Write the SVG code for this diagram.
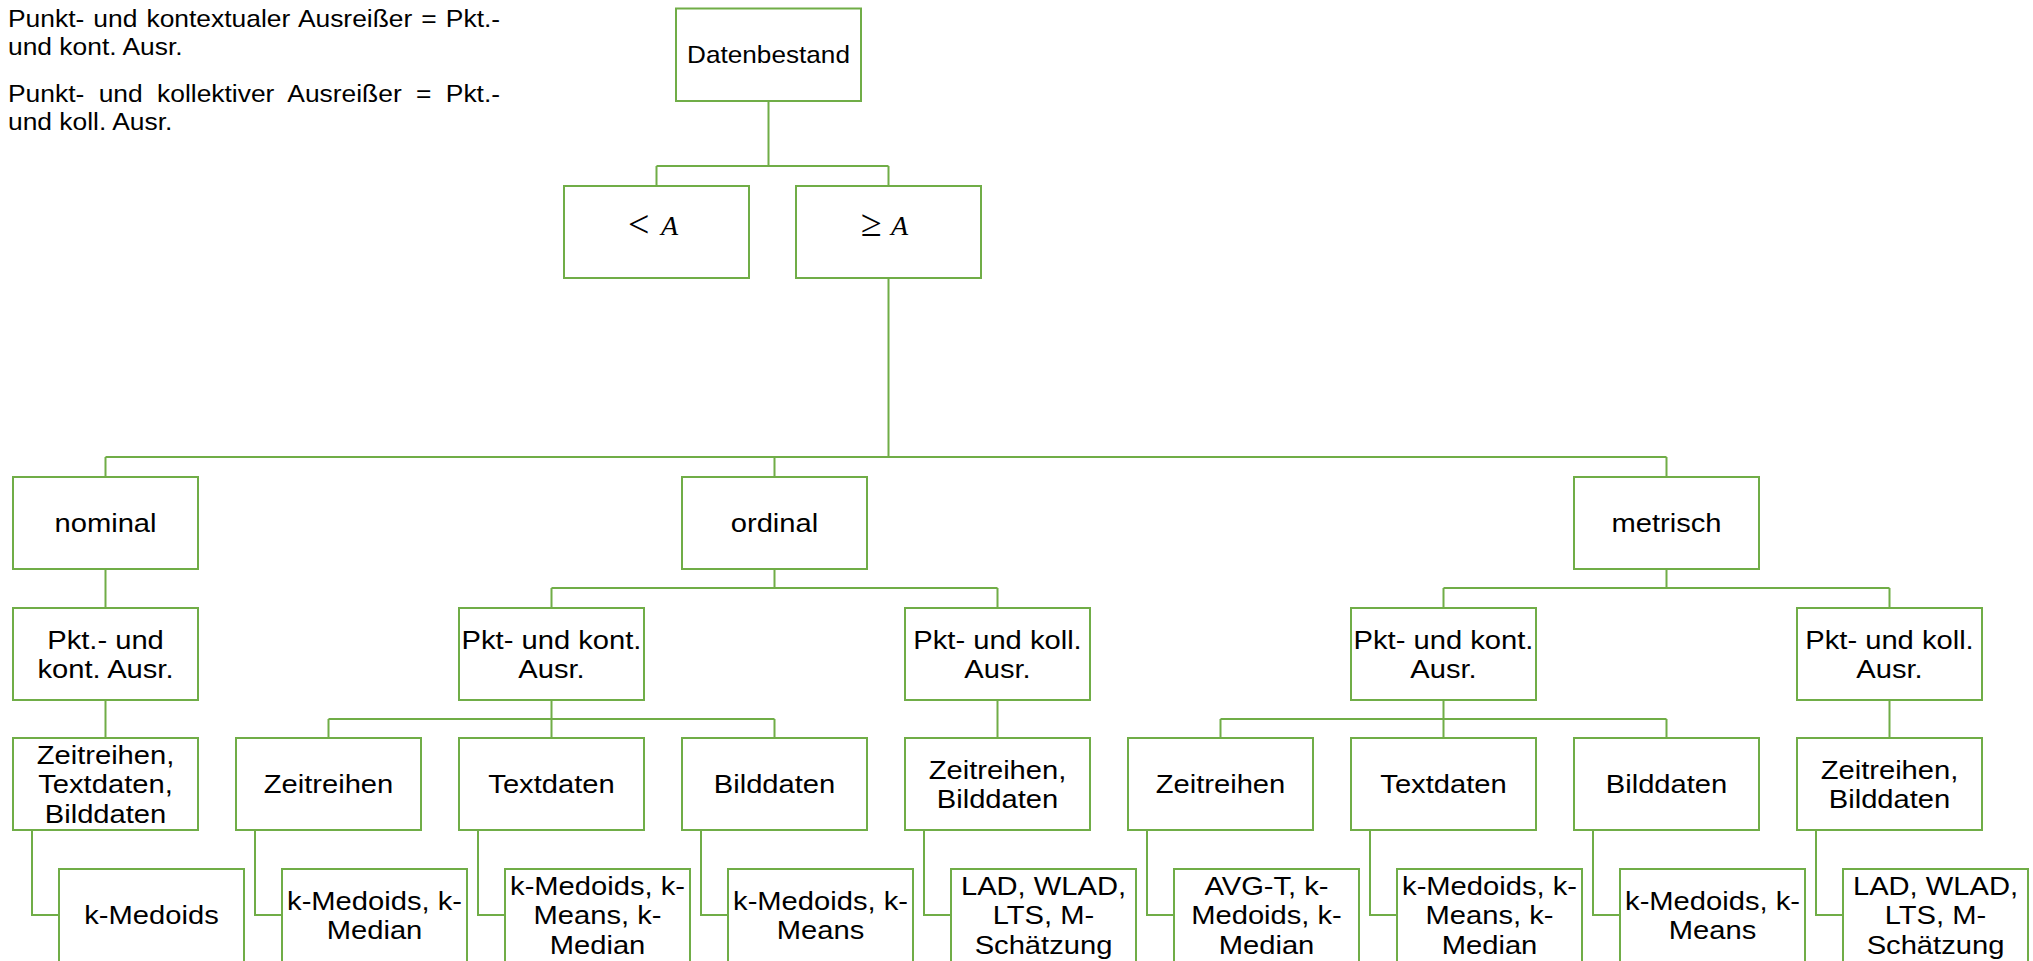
<svg xmlns="http://www.w3.org/2000/svg" width="2033" height="961" viewBox="0 0 2033 961">
  <style>
    .box { fill: #ffffff; stroke: #70AD47; stroke-width: 2; }
    .wire { fill: none; stroke: #70AD47; stroke-width: 2; }
    .lbl { font-family: "Liberation Sans", Arial, sans-serif; font-size: 26.5px; fill: #000000; text-anchor: middle; }
    .note { font-family: "Liberation Sans", Arial, sans-serif; font-size: 24px; fill: #000000; }
    .rel { font-family: "Liberation Serif", "Times New Roman", serif; font-size: 38px; fill: #000000; }
    .var { font-family: "Liberation Serif", "Times New Roman", serif; font-size: 28px; font-style: italic; fill: #000000; }
  </style>

  <!-- abbreviation legend -->
  <g id="legend" class="note" transform="translate(8 0) scale(1.1 1)">
    <text x="0" y="27" word-spacing="1.6">Punkt- und kontextualer Ausreißer = Pkt.-</text>
    <text x="0" y="55">und kont. Ausr.</text>
    <text x="0" y="102" word-spacing="6.4">Punkt- und kollektiver Ausreißer = Pkt.-</text>
    <text x="0" y="130">und koll. Ausr.</text>
  </g>

  <!-- connectors -->
  <g id="connectors" class="wire">
    <path d="M768.5 101 V166 M656.5 166 H888.5 M656.5 166 V186 M888.5 166 V186"/>
    <path d="M888.5 278 V457 M105.5 457 H1666.5 M105.5 457 V477 M774.5 457 V477 M1666.5 457 V477"/>
    <path d="M105.5 569 V608"/>
    <path d="M774.5 569 V588 M551.5 588 H997.5 M551.5 588 V608 M997.5 588 V608"/>
    <path d="M1666.5 569 V588 M1443.5 588 H1889.5 M1443.5 588 V608 M1889.5 588 V608"/>
    <path d="M105.5 700 V738"/>
    <path d="M551.5 700 V719 M328.5 719 H774.5 M328.5 719 V738 M551.5 719 V738 M774.5 719 V738"/>
    <path d="M997.5 700 V738"/>
    <path d="M1443.5 700 V719 M1220.5 719 H1666.5 M1220.5 719 V738 M1443.5 719 V738 M1666.5 719 V738"/>
    <path d="M1889.5 700 V738"/>
    <path d="M32 830 V915 H59"/>
    <path d="M255 830 V915 H282"/>
    <path d="M478 830 V915 H505"/>
    <path d="M701 830 V915 H728"/>
    <path d="M924 830 V915 H951"/>
    <path d="M1147 830 V915 H1174"/>
    <path d="M1370 830 V915 H1397"/>
    <path d="M1593 830 V915 H1620"/>
    <path d="M1816 830 V915 H1843"/>
  </g>

  <!-- root -->
  <g id="n-datenbestand">
    <rect class="box" x="676" y="8.5" width="185" height="92.5"/>
    <text class="lbl" style="font-size:24px" transform="matrix(1.09 0 0 1 768.5 0)" x="0" y="63.5">Datenbestand</text>
  </g>

  <!-- threshold split -->
  <g id="n-lt-a">
    <rect class="box" x="564" y="186" width="185" height="92"/>
    <text class="rel" x="628" y="237">&lt;</text>
    <text class="var" x="661" y="235">A</text>
  </g>
  <g id="n-ge-a">
    <rect class="box" x="796" y="186" width="185" height="92"/>
    <text class="rel" x="861" y="236">≥</text>
    <text class="var" x="891" y="235">A</text>
  </g>

  <!-- scale levels -->
  <g id="n-nominal">
    <rect class="box" x="13" y="477" width="185" height="92"/>
    <text class="lbl" transform="matrix(1.1 0 0 1 105.5 0)" x="0" y="532.5">nominal</text>
  </g>
  <g id="n-ordinal">
    <rect class="box" x="682" y="477" width="185" height="92"/>
    <text class="lbl" transform="matrix(1.1 0 0 1 774.5 0)" x="0" y="532.5">ordinal</text>
  </g>
  <g id="n-metrisch">
    <rect class="box" x="1574" y="477" width="185" height="92"/>
    <text class="lbl" transform="matrix(1.1 0 0 1 1666.5 0)" x="0" y="532.5">metrisch</text>
  </g>

  <!-- outlier types -->
  <g id="n-nom-kont">
    <rect class="box" x="13" y="608" width="185" height="92"/>
    <text class="lbl" transform="matrix(1.1 0 0 1 105.5 0)"><tspan x="0" y="649">Pkt.- und</tspan><tspan x="0" y="678.5">kont. Ausr.</tspan></text>
  </g>
  <g id="n-ord-kont">
    <rect class="box" x="459" y="608" width="185" height="92"/>
    <text class="lbl" transform="matrix(1.1 0 0 1 551.5 0)"><tspan x="0" y="649">Pkt- und kont.</tspan><tspan x="0" y="678.5">Ausr.</tspan></text>
  </g>
  <g id="n-ord-koll">
    <rect class="box" x="905" y="608" width="185" height="92"/>
    <text class="lbl" transform="matrix(1.1 0 0 1 997.5 0)"><tspan x="0" y="649">Pkt- und koll.</tspan><tspan x="0" y="678.5">Ausr.</tspan></text>
  </g>
  <g id="n-met-kont">
    <rect class="box" x="1351" y="608" width="185" height="92"/>
    <text class="lbl" transform="matrix(1.1 0 0 1 1443.5 0)"><tspan x="0" y="649">Pkt- und kont.</tspan><tspan x="0" y="678.5">Ausr.</tspan></text>
  </g>
  <g id="n-met-koll">
    <rect class="box" x="1797" y="608" width="185" height="92"/>
    <text class="lbl" transform="matrix(1.1 0 0 1 1889.5 0)"><tspan x="0" y="649">Pkt- und koll.</tspan><tspan x="0" y="678.5">Ausr.</tspan></text>
  </g>

  <!-- data kinds -->
  <g id="n-nom-daten">
    <rect class="box" x="13" y="738" width="185" height="92"/>
    <text class="lbl" transform="matrix(1.1 0 0 1 105.5 0)"><tspan x="0" y="764">Zeitreihen,</tspan><tspan x="0" y="793.5">Textdaten,</tspan><tspan x="0" y="823">Bilddaten</tspan></text>
  </g>
  <g id="n-ord-zeit">
    <rect class="box" x="236" y="738" width="185" height="92"/>
    <text class="lbl" transform="matrix(1.1 0 0 1 328.5 0)" x="0" y="793.5">Zeitreihen</text>
  </g>
  <g id="n-ord-text">
    <rect class="box" x="459" y="738" width="185" height="92"/>
    <text class="lbl" transform="matrix(1.1 0 0 1 551.5 0)" x="0" y="793.5">Textdaten</text>
  </g>
  <g id="n-ord-bild">
    <rect class="box" x="682" y="738" width="185" height="92"/>
    <text class="lbl" transform="matrix(1.1 0 0 1 774.5 0)" x="0" y="793.5">Bilddaten</text>
  </g>
  <g id="n-ord-zeitbild">
    <rect class="box" x="905" y="738" width="185" height="92"/>
    <text class="lbl" transform="matrix(1.1 0 0 1 997.5 0)"><tspan x="0" y="779">Zeitreihen,</tspan><tspan x="0" y="808.5">Bilddaten</tspan></text>
  </g>
  <g id="n-met-zeit">
    <rect class="box" x="1128" y="738" width="185" height="92"/>
    <text class="lbl" transform="matrix(1.1 0 0 1 1220.5 0)" x="0" y="793.5">Zeitreihen</text>
  </g>
  <g id="n-met-text">
    <rect class="box" x="1351" y="738" width="185" height="92"/>
    <text class="lbl" transform="matrix(1.1 0 0 1 1443.5 0)" x="0" y="793.5">Textdaten</text>
  </g>
  <g id="n-met-bild">
    <rect class="box" x="1574" y="738" width="185" height="92"/>
    <text class="lbl" transform="matrix(1.1 0 0 1 1666.5 0)" x="0" y="793.5">Bilddaten</text>
  </g>
  <g id="n-met-zeitbild">
    <rect class="box" x="1797" y="738" width="185" height="92"/>
    <text class="lbl" transform="matrix(1.1 0 0 1 1889.5 0)"><tspan x="0" y="779">Zeitreihen,</tspan><tspan x="0" y="808.5">Bilddaten</tspan></text>
  </g>

  <!-- methods -->
  <g id="m-nom">
    <rect class="box" x="59" y="869" width="185" height="94"/>
    <text class="lbl" transform="matrix(1.1 0 0 1 151.5 0)" x="0" y="924.5">k-Medoids</text>
  </g>
  <g id="m-ord-zeit">
    <rect class="box" x="282" y="869" width="185" height="94"/>
    <text class="lbl" transform="matrix(1.1 0 0 1 374.5 0)"><tspan x="0" y="910">k-Medoids, k-</tspan><tspan x="0" y="939.5">Median</tspan></text>
  </g>
  <g id="m-ord-text">
    <rect class="box" x="505" y="869" width="185" height="94"/>
    <text class="lbl" transform="matrix(1.1 0 0 1 597.5 0)"><tspan x="0" y="895">k-Medoids, k-</tspan><tspan x="0" y="924.5">Means, k-</tspan><tspan x="0" y="954">Median</tspan></text>
  </g>
  <g id="m-ord-bild">
    <rect class="box" x="728" y="869" width="185" height="94"/>
    <text class="lbl" transform="matrix(1.1 0 0 1 820.5 0)"><tspan x="0" y="910">k-Medoids, k-</tspan><tspan x="0" y="939.5">Means</tspan></text>
  </g>
  <g id="m-ord-zeitbild">
    <rect class="box" x="951" y="869" width="185" height="94"/>
    <text class="lbl" transform="matrix(1.1 0 0 1 1043.5 0)"><tspan x="0" y="895">LAD, WLAD,</tspan><tspan x="0" y="924.5">LTS, M-</tspan><tspan x="0" y="954">Schätzung</tspan></text>
  </g>
  <g id="m-met-zeit">
    <rect class="box" x="1174" y="869" width="185" height="94"/>
    <text class="lbl" transform="matrix(1.1 0 0 1 1266.5 0)"><tspan x="0" y="895">AVG-T, k-</tspan><tspan x="0" y="924.5">Medoids, k-</tspan><tspan x="0" y="954">Median</tspan></text>
  </g>
  <g id="m-met-text">
    <rect class="box" x="1397" y="869" width="185" height="94"/>
    <text class="lbl" transform="matrix(1.1 0 0 1 1489.5 0)"><tspan x="0" y="895">k-Medoids, k-</tspan><tspan x="0" y="924.5">Means, k-</tspan><tspan x="0" y="954">Median</tspan></text>
  </g>
  <g id="m-met-bild">
    <rect class="box" x="1620" y="869" width="185" height="94"/>
    <text class="lbl" transform="matrix(1.1 0 0 1 1712.5 0)"><tspan x="0" y="910">k-Medoids, k-</tspan><tspan x="0" y="939.5">Means</tspan></text>
  </g>
  <g id="m-met-zeitbild">
    <rect class="box" x="1843" y="869" width="185" height="94"/>
    <text class="lbl" transform="matrix(1.1 0 0 1 1935.5 0)"><tspan x="0" y="895">LAD, WLAD,</tspan><tspan x="0" y="924.5">LTS, M-</tspan><tspan x="0" y="954">Schätzung</tspan></text>
  </g>
</svg>
